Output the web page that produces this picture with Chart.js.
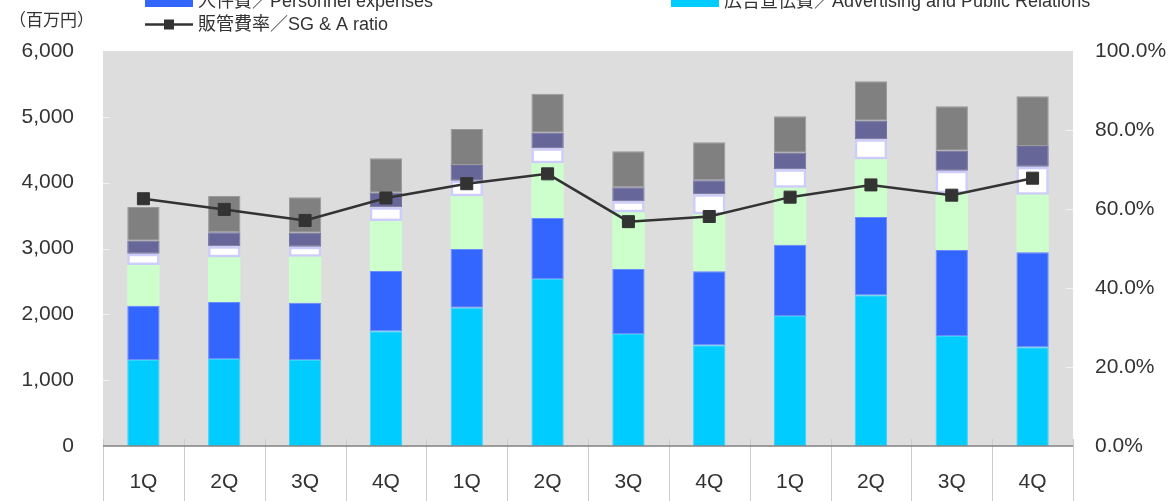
<!DOCTYPE html>
<html>
<head>
<meta charset="utf-8">
<script src="https://cdn.jsdelivr.net/npm/chart.js@4/dist/chart.umd.min.js"></script>
<style>
html,body{margin:0;padding:0;background:#fff;}
#wrap{width:1169px;height:501px;position:relative;}
</style>
</head>
<body>
<div id="wrap"><canvas id="c" width="1169" height="501"></canvas></div>
<script>
// ---- data ----
const categories = ['1Q','2Q','3Q','4Q','1Q','2Q','3Q','4Q','1Q','2Q','3Q','4Q'];
const advertising = [1306,1322,1306,1742,2101,2537,1701,1529,1975,2289,1671,1499];
const personnel   = [826,865,871,916,891,926,988,1124,1083,1189,1306,1443];
const seriesGreen = [617,679,699,760,800,831,860,866,866,876,861,876];
const seriesWhite = [173,167,152,207,238,228,167,304,279,304,344,425];
const seriesPurple= [197,213,213,223,238,237,213,212,253,284,304,314];
const seriesGray  = [511,551,536,522,547,593,547,578,552,597,673,754];
const sgaRatio    = [62.6,59.9,57.1,62.8,66.4,68.9,56.8,58.1,63.0,66.1,63.5,67.8];
const leftTicks   = [0,1000,2000,3000,4000,5000,6000];
const rightTicks  = [0,20,40,60,80,100];
const unitLabel   = '（百万円）';
const labelAdvertising = '広告宣伝費／Advertising and Public Relations';
const labelPersonnel   = '人件費／Personnel expenses';
const labelRatio       = '販管費率／SG & A ratio';

const FONT = '"Liberation Sans", Arial, "Noto Sans CJK JP", sans-serif';
Chart.defaults.font.family = FONT;
Chart.defaults.color = '#333333';

const bgPlugin = {
  id: 'bgPlugin',
  beforeDatasetsDraw(chart) {
    const {ctx, chartArea: a} = chart;
    ctx.save();
    ctx.fillStyle = '#dddddd';
    ctx.fillRect(a.left, a.top, a.right - a.left, a.bottom - a.top);
    // small inner tick marks
    ctx.strokeStyle = '#f2f2f2';
    ctx.lineWidth = 1;
    const y = chart.scales.y, y1 = chart.scales.y1;
    y.ticks.forEach((t, i) => {
      if (i === 0 || i === y.ticks.length - 1) return;
      const py = Math.round(y.getPixelForValue(t.value)) + 0.5;
      ctx.beginPath(); ctx.moveTo(a.left, py); ctx.lineTo(a.left + 6, py); ctx.stroke();
    });
    y1.ticks.forEach((t, i) => {
      if (i === 0 || i === y1.ticks.length - 1) return;
      const py = Math.round(y1.getPixelForValue(t.value)) + 0.5;
      ctx.beginPath(); ctx.moveTo(a.right - 7, py); ctx.lineTo(a.right, py); ctx.stroke();
    });
    ctx.restore();
  },
  afterDraw(chart) {
    const {ctx, chartArea: a} = chart;
    const x = chart.scales.x;
    ctx.save();
    // category separators
    ctx.strokeStyle = '#cccccc';
    ctx.lineWidth = 1;
    const n = categories.length;
    for (let i = 0; i <= n; i++) {
      const px = Math.round(x.left + i * (x.right - x.left) / n) + 0.5;
      ctx.beginPath(); ctx.moveTo(px, a.bottom - 7); ctx.lineTo(px, chart.height); ctx.stroke();
    }
    // axis line
    ctx.strokeStyle = '#808080';
    ctx.lineWidth = 1.5;
    ctx.beginPath(); ctx.moveTo(a.left, a.bottom); ctx.lineTo(a.right, a.bottom); ctx.stroke();

    // unit label
    ctx.fillStyle = '#333333';
    ctx.font = '17px ' + FONT;
    ctx.textBaseline = 'middle';
    ctx.textAlign = 'left';
    ctx.fillText(unitLabel, 9, 21);

    // legend (visible part)
    ctx.font = '18px ' + FONT;
    const ds = chart.data.datasets;
    const items = [
      {i: 1, x: 145, y: 1},
      {i: 0, x: 671, y: 1}
    ];
    items.forEach(it => {
      ctx.fillStyle = ds[it.i].backgroundColor;
      ctx.fillRect(it.x, it.y - 8, 48, 14);
      ctx.fillStyle = '#333333';
      ctx.fillText(ds[it.i].label, it.x + 53, it.y + 1);
    });
    const line = ds[6];
    ctx.strokeStyle = line.borderColor;
    ctx.lineWidth = 2.5;
    ctx.beginPath(); ctx.moveTo(145, 24.5); ctx.lineTo(193, 24.5); ctx.stroke();
    ctx.fillStyle = line.pointBackgroundColor;
    ctx.fillRect(164, 19.5, 10, 10);
    ctx.fillStyle = '#333333';
    ctx.fillText(line.label, 198, 25.5);
    ctx.restore();
  }
};

const barCommon = {
  type: 'bar', stack: 's', yAxisID: 'y', order: 2,
  barPercentage: 0.4, categoryPercentage: 1.0, borderSkipped: false
};

new Chart(document.getElementById('c'), {
  data: {
    labels: categories,
    datasets: [
      Object.assign({label: labelAdvertising, data: advertising, backgroundColor: '#00ccff', borderColor: '#33d4ff', borderWidth: 1}, barCommon),
      Object.assign({label: labelPersonnel, data: personnel, backgroundColor: '#3366ff', borderColor: '#6a8cff', borderWidth: 1}, barCommon),
      Object.assign({label: 'series 3', data: seriesGreen, backgroundColor: '#ccffcc', borderColor: '#ccffcc', borderWidth: 0}, barCommon),
      Object.assign({label: 'series 4', data: seriesWhite, backgroundColor: '#ffffff', borderColor: '#ccccff', borderWidth: 2.5}, barCommon),
      Object.assign({label: 'series 5', data: seriesPurple, backgroundColor: '#666699', borderColor: '#6f6fa0', borderWidth: 1}, barCommon),
      Object.assign({label: 'series 6', data: seriesGray, backgroundColor: '#808080', borderColor: '#999999', borderWidth: 1}, barCommon),
      {
        type: 'line', label: labelRatio, data: sgaRatio, yAxisID: 'y1', order: 0,
        borderColor: '#333333', borderWidth: 2.5, pointStyle: 'rect', pointRadius: 8.5,
        pointBackgroundColor: '#333333', pointBorderColor: '#333333', pointBorderWidth: 1,
        fill: false, tension: 0
      }
    ]
  },
  options: {
    responsive: false,
    animation: false,
    layout: {padding: {top: 51, left: 0, right: 0, bottom: 0}},
    plugins: {legend: {display: false}, tooltip: {enabled: false}},
    scales: {
      x: {
        offset: true,
        grid: {display: false, drawTicks: false},
        border: {display: false},
        ticks: {font: {size: 21}, color: '#333333', padding: 24, maxRotation: 0, autoSkip: false},
        afterFit(s) { s.height = 55; }
      },
      y: {
        position: 'left', stacked: true, min: 0, max: 6000,
        afterBuildTicks(s) { s.ticks = leftTicks.map(v => ({value: v})); },
        grid: {display: false, drawTicks: false},
        border: {display: false},
        ticks: {font: {size: 21}, color: '#333333', padding: 29,
          callback: v => v.toLocaleString('en-US')},
        afterFit(s) { s.width = 103; }
      },
      y1: {
        position: 'right', min: 0, max: 100,
        afterBuildTicks(s) { s.ticks = rightTicks.map(v => ({value: v})); },
        grid: {display: false, drawTicks: false},
        border: {display: false},
        ticks: {font: {size: 21}, color: '#333333', padding: 22,
          callback: v => v.toFixed(1) + '%'},
        afterFit(s) { s.width = 96; }
      }
    }
  },
  plugins: [bgPlugin]
});
</script>
</body>
</html>
